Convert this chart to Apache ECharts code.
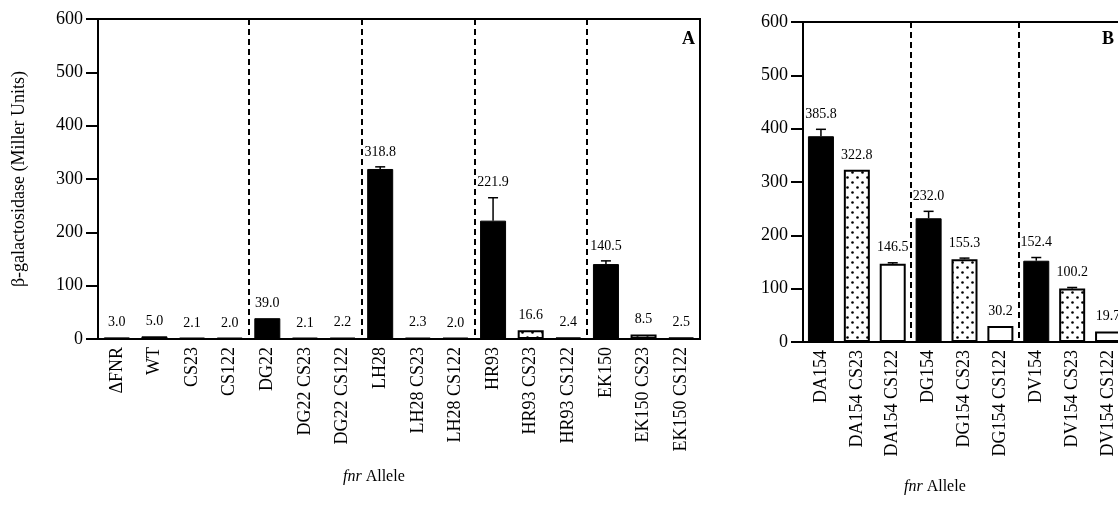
<!DOCTYPE html>
<html>
<head>
<meta charset="utf-8">
<title>fnr Allele - beta-galactosidase</title>
<script src="https://cdn.jsdelivr.net/npm/echarts@6.0.0/dist/echarts.min.js"></script>
<style>
    html, body { margin: 0; padding: 0; background: #fff; }
    #chart { width: 1118px; height: 506px; }
</style>
</head>
<body>
<div id="chart"></div>
<script>
/* ---- data, panel A ---- */
var categoriesA = ['ΔFNR', 'WT', 'CS23', 'CS122', 'DG22', 'DG22 CS23', 'DG22 CS122',
    'LH28', 'LH28 CS23', 'LH28 CS122', 'HR93', 'HR93 CS23', 'HR93 CS122',
    'EK150', 'EK150 CS23', 'EK150 CS122'];
var valuesA = [3.0, 5.0, 2.1, 2.0, 39.0, 2.1, 2.2, 318.8, 2.3, 2.0, 221.9, 16.6, 2.4, 140.5, 8.5, 2.5];
var errorsA = [0, 0, 0, 0, 0, 0, 0, 4, 0, 0, 43, 0, 0, 6, 0, 0];
var fillsA = ['solid', 'solid', 'dots', 'open', 'solid', 'dots', 'open', 'solid', 'dots', 'open',
    'solid', 'dots', 'open', 'solid', 'dots', 'open'];
var groupStartsA = [4, 7, 10, 13];

/* ---- data, panel B ---- */
var categoriesB = ['DA154', 'DA154 CS23', 'DA154 CS122', 'DG154', 'DG154 CS23', 'DG154 CS122',
    'DV154', 'DV154 CS23', 'DV154 CS122'];
var valuesB = [385.8, 322.8, 146.5, 232.0, 155.3, 30.2, 152.4, 100.2, 19.7];
var errorsB = [13, 0, 2, 13, 2, 0, 6, 2, 0];
var fillsB = ['solid', 'dots', 'open', 'solid', 'dots', 'open', 'solid', 'dots', 'open'];
var groupStartsB = [3, 6];

var yTicks = [0, 100, 200, 300, 400, 500, 600];

(function () {
    'use strict';

    var SERIF = '"Liberation Serif", "DejaVu Serif", serif';

    // small tile with staggered dots, used for the CS23 bars
    function makeDotPattern() {
        var c = document.createElement('canvas');
        c.width = 10;
        c.height = 10;
        var ctx = c.getContext('2d');
        ctx.fillStyle = '#fff';
        ctx.fillRect(0, 0, 10, 10);
        ctx.fillStyle = '#000';
        [[2.5, 2.5], [7.5, 7.5]].forEach(function (p) {
            ctx.beginPath();
            ctx.arc(p[0], p[1], 1.3, 0, Math.PI * 2);
            ctx.fill();
        });
        return { image: c, repeat: 'repeat' };
    }

    var dots = makeDotPattern();

    function barItems(values, fills) {
        return values.map(function (v, i) {
            var f = fills[i];
            var style;
            if (f === 'solid') {
                style = { color: '#000', borderColor: '#000', borderWidth: 1 };
            } else if (f === 'dots') {
                style = { color: dots, borderColor: '#000', borderWidth: 2 };
            } else {
                style = { color: '#fff', borderColor: '#000', borderWidth: 2 };
            }
            return { value: v, itemStyle: style };
        });
    }

    // error bar + number above each bar
    function renderErrorLabel(params, api) {
        var i = api.value(0);
        var v = api.value(1);
        var e = api.value(2);
        var base = api.coord([i, v]);
        var top = api.coord([i, v + e]);
        var children = [];
        if (e > 0) {
            children.push({
                type: 'line',
                shape: { x1: base[0], y1: base[1], x2: top[0], y2: top[1] },
                style: { stroke: '#000', lineWidth: 1.5 }
            });
            children.push({
                type: 'line',
                shape: { x1: top[0] - 5, y1: top[1], x2: top[0] + 5, y2: top[1] },
                style: { stroke: '#000', lineWidth: 1.5 }
            });
        }
        children.push({
            type: 'text',
            x: top[0],
            y: top[1] - 8,
            style: {
                text: v.toFixed(1),
                align: 'center',
                verticalAlign: 'bottom',
                fontSize: 14,
                fontFamily: SERIF,
                fill: '#000'
            }
        });
        return { type: 'group', children: children };
    }

    function errorData(values, errors) {
        return values.map(function (v, i) { return [i, v, errors[i]]; });
    }

    function makeXAxis(gridIndex, cats, starts) {
        return {
            type: 'category',
            gridIndex: gridIndex,
            data: cats,
            axisLine: { lineStyle: { color: '#000', width: 2 } },
            axisTick: { show: false },
            axisLabel: {
                rotate: 90,
                interval: 0,
                margin: 8,
                color: '#000',
                fontSize: 18,
                fontFamily: SERIF
            },
            splitLine: {
                show: true,
                interval: function (index) { return starts.indexOf(index) >= 0; },
                lineStyle: { color: '#000', width: 2, type: [6, 4] }
            }
        };
    }

    function makeYAxis(gridIndex, withName) {
        var ax = {
            type: 'value',
            gridIndex: gridIndex,
            min: yTicks[0],
            max: yTicks[yTicks.length - 1],
            interval: yTicks[1] - yTicks[0],
            axisLine: { show: true, lineStyle: { color: '#000', width: 2 } },
            axisTick: { show: true, length: 12, lineStyle: { color: '#000', width: 2 } },
            axisLabel: { margin: 15, color: '#000', fontSize: 18, fontFamily: SERIF },
            splitLine: { show: false }
        };
        if (withName) {
            ax.name = 'β-galactosidase (Miller Units)';
            ax.nameLocation = 'middle';
            ax.nameGap = 70;
            ax.nameTextStyle = { color: '#000', fontSize: 18, fontFamily: SERIF };
        }
        return ax;
    }

    function init() {
        var chart = echarts.init(document.getElementById('chart'));

        chart.setOption({
            animation: false,
            backgroundColor: '#fff',
            grid: [
                { left: 98, top: 19, width: 602, height: 320, show: true,
                  borderColor: '#000', borderWidth: 2, outerBoundsMode: 'none' },
                { left: 803, top: 22, width: 323, height: 320, show: true,
                  borderColor: '#000', borderWidth: 2, outerBoundsMode: 'none' }
            ],
            xAxis: [
                makeXAxis(0, categoriesA, groupStartsA),
                makeXAxis(1, categoriesB, groupStartsB)
            ],
            yAxis: [makeYAxis(0, true), makeYAxis(1, false)],
            series: [
                { type: 'bar', xAxisIndex: 0, yAxisIndex: 0, barWidth: 26,
                  data: barItems(valuesA, fillsA) },
                { type: 'custom', xAxisIndex: 0, yAxisIndex: 0, z: 5, clip: false,
                  renderItem: renderErrorLabel, data: errorData(valuesA, errorsA) },
                { type: 'bar', xAxisIndex: 1, yAxisIndex: 1, barWidth: 26,
                  data: barItems(valuesB, fillsB) },
                { type: 'custom', xAxisIndex: 1, yAxisIndex: 1, z: 5, clip: false,
                  renderItem: renderErrorLabel, data: errorData(valuesB, errorsB) }
            ],
            graphic: [
                { type: 'text', left: 682, top: 30,
                  style: { text: 'A', fontSize: 18, fontWeight: 'bold', fontFamily: SERIF, fill: '#000' } },
                { type: 'text', left: 1102, top: 30,
                  style: { text: 'B', fontSize: 18, fontWeight: 'bold', fontFamily: SERIF, fill: '#000' } },
                { type: 'text', left: 343, top: 469,
                  style: { text: '{i|fnr} Allele', fontSize: 16, fontFamily: SERIF, fill: '#000',
                           rich: { i: { fontStyle: 'italic', fontSize: 16, fontFamily: SERIF } } } },
                { type: 'text', left: 904, top: 479,
                  style: { text: '{i|fnr} Allele', fontSize: 16, fontFamily: SERIF, fill: '#000',
                           rich: { i: { fontStyle: 'italic', fontSize: 16, fontFamily: SERIF } } } }
            ]
        });
    }

    if (document.readyState === 'loading') {
        document.addEventListener('DOMContentLoaded', init);
    } else {
        init();
    }
})();
</script>
</body>
</html>
